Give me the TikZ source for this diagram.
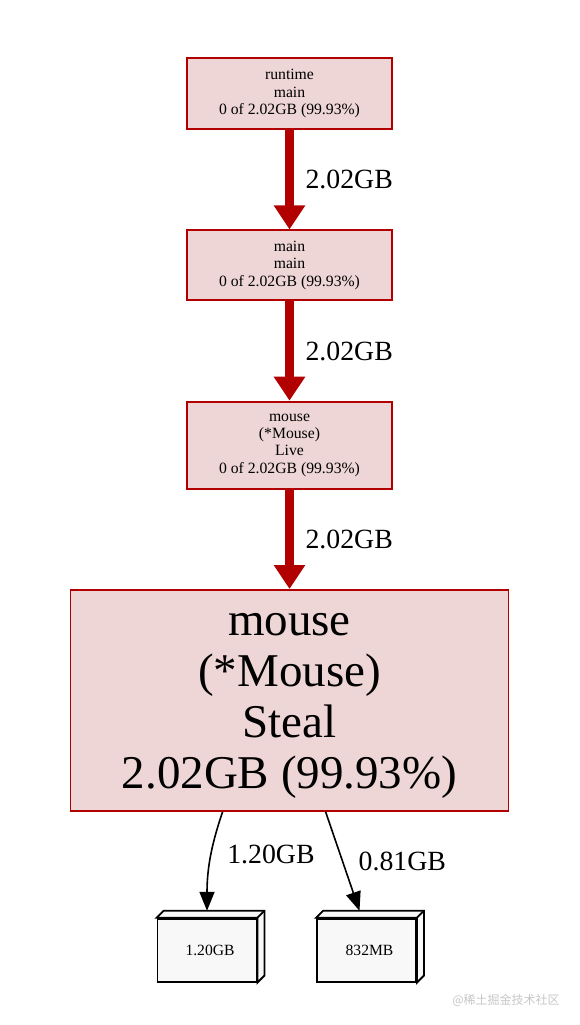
\documentclass[tikz,border=0pt]{standalone}
\usepackage{fontspec}
\setmainfont{Liberation Serif}
\newfontfamily\cjkfont{Noto Sans CJK SC}
\usetikzlibrary{arrows.meta, positioning}
\definecolor{nodefill}{HTML}{EDD6D5}
\definecolor{nodeline}{HTML}{B20000}
\definecolor{leaffill}{HTML}{F8F8F8}

\begin{document}
\begin{tikzpicture}[
    x=1pt, y=-1pt,
    node distance=99.5pt,
    func/.style={
        rectangle,
        draw=nodeline,
        fill=nodefill,
        line width=1.8pt,
        minimum width=205pt,
        minimum height=71pt,
        inner sep=2pt,
        align=center,
        font=\fontsize{15.7}{17.3}\selectfont
    },
    bigfunc/.style={
        func,
        minimum width=438pt,
        minimum height=221pt,
        font=\fontsize{47}{51}\selectfont
    },
    leaf/.style={
        rectangle,
        draw=black,
        fill=leaffill,
        line width=1.8pt,
        minimum width=99pt,
        minimum height=63pt,
        align=center,
        font=\fontsize{15.6}{17}\selectfont
    },
    hot/.style={
        draw=nodeline,
        line width=9.5pt,
        -{Triangle[width=30pt, length=24pt]}
    },
    cold/.style={
        draw=black,
        line width=1.6pt,
        -{Triangle[width=15pt, length=19pt]}
    },
    weight/.style={
        right=8pt,
        text=black,
        font=\fontsize{27.8}{30}\selectfont
    }
]
    \useasboundingbox (0,0) rectangle (579,1025);

    % Nodes
    \node [func] (runtime) at (289.5,93.5) {runtime\\ main\\ 0 of 2.02GB (99.93\%)};
    \node [func, minimum height=70pt, below=of runtime] (mainmain) {main\\ main\\ 0 of 2.02GB (99.93\%)};
    \node [func, minimum height=87pt, below=of mainmain] (live) {mouse\\ (*Mouse)\\ Live\\ 0 of 2.02GB (99.93\%)};
    \node [bigfunc, below=of live] (steal) {\rule{0pt}{33pt}mouse\\ (*Mouse)\\ Steal\\ 2.02GB (99.93\%)};

    \node [leaf, below=106pt of steal, xshift=-82.5pt] (gb) {\hspace{6pt}1.20GB};
    \node [leaf, below=106pt of steal, xshift=77pt] (mb) {\hspace{6pt}832MB};

    % 3d sides of the leaves
    \foreach \leafname in {gb, mb} {
        \draw [line width=1.8pt, fill=leaffill, line join=miter]
            (\leafname.north west) -- ++(7,-7)
            -- ([shift={(7,-7)}]\leafname.north east)
            -- ([shift={(7,-7)}]\leafname.south east)
            -- (\leafname.south east) -- (\leafname.north east) -- cycle;
        \draw [line width=1.8pt] (\leafname.north east) -- ++(7,-7);
    }

    % Arrows
    \draw [hot] (runtime) -- node [weight] {2.02GB} (mainmain);
    \draw [hot] (mainmain) -- node [weight] {2.02GB} (live);
    \draw [hot] (live) -- node [weight] {2.02GB} (steal);

    \draw [cold] ([xshift=153pt]steal.south west) .. controls (213,840) and (207,865) .. node [weight, right=12pt] {1.20GB} ([yshift=7pt]gb.north);
    \draw [cold] ([xshift=256pt]steal.south west) -- node [weight, right=12pt] {0.81GB} ([yshift=7pt, xshift=-7pt]mb.north);

    % watermark
    \node [text=gray!45, font=\cjkfont\fontsize{12}{12}\selectfont] (mark) at (506,1000) {@稀土掘金技术社区};
\end{tikzpicture}
\end{document}
